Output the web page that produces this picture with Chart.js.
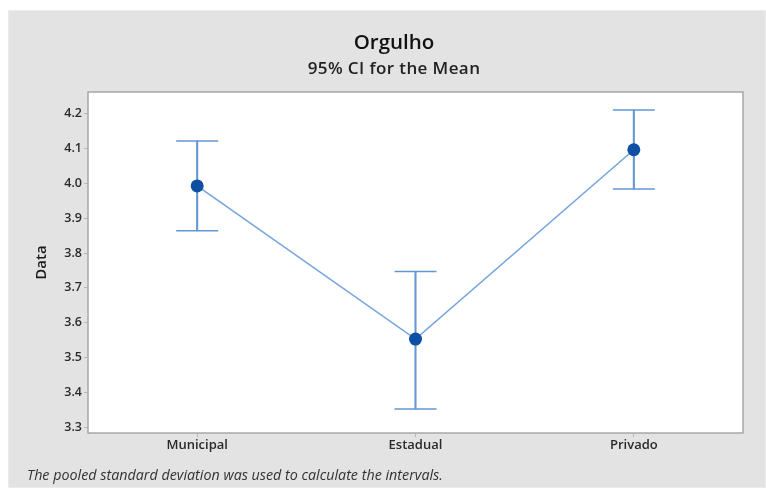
<!DOCTYPE html>
<html>
<head>
<meta charset="utf-8">
<script src="https://cdn.jsdelivr.net/npm/chart.js@4.4.1/dist/chart.umd.min.js"></script>
<style>
  html, body { margin: 0; padding: 0; background: #ffffff; }
  #wrap { width: 766px; height: 488px; }
</style>
</head>
<body>
<div id="wrap"><canvas id="c" width="766" height="488"></canvas></div>
<script>
// Groups and interval plot values
const groups = ['Municipal', 'Estadual', 'Privado'];
const means = [3.993, 3.553, 4.097];
const ciLower = [3.864, 3.352, 3.984];
const ciUpper = [4.122, 3.747, 4.211];
const yTickValues = [3.3, 3.4, 3.5, 3.6, 3.7, 3.8, 3.9, 4.0, 4.1, 4.2];

const chartTitle = 'Orgulho';
const chartSubtitle = '95% CI for the Mean';
const footnote = 'The pooled standard deviation was used to calculate the intervals.';

const FONT = "'Open Sans', 'Noto Sans', sans-serif";
const whiskerColor = '#6296d4';
const lineColor = '#76a5dd';
const dotColor = '#0d4fa3';

// Grey panel, white plot box, border, titles and footnote
const frame = {
  id: 'frame',
  beforeDraw(chart) {
    const { ctx, chartArea: a } = chart;
    ctx.save();
    ctx.fillStyle = '#ffffff';
    ctx.fillRect(0, 0, chart.width, chart.height);
    ctx.fillStyle = '#e3e3e3';
    ctx.fillRect(8, 10, chart.width - 8, chart.height - 10);
    ctx.strokeStyle = '#ececec';
    ctx.lineWidth = 1;
    ctx.strokeRect(8.5, 10.5, chart.width - 9, chart.height - 11);
    ctx.fillStyle = '#ffffff';
    ctx.fillRect(a.left, a.top, a.right - a.left, a.bottom - a.top);
    ctx.restore();
  },
  afterDraw(chart) {
    const { ctx, chartArea: a } = chart;
    ctx.save();
    ctx.strokeStyle = '#a8a8a8';
    ctx.lineWidth = 1.5;
    ctx.strokeRect(a.left, a.top, a.right - a.left, a.bottom - a.top);
    ctx.fillStyle = '#111111';
    ctx.textAlign = 'center';
    ctx.textBaseline = 'middle';
    ctx.font = `600 20.5px ${FONT}`;
    ctx.fillText(chartTitle, 394, 43);
    ctx.font = `600 17px ${FONT}`;
    ctx.letterSpacing = '0.4px';
    ctx.fillStyle = '#222222';
    ctx.fillText(chartSubtitle, 394, 69);
    ctx.letterSpacing = '0px';
    ctx.font = `italic 14.3px ${FONT}`;
    ctx.fillStyle = '#333333';
    ctx.textAlign = 'left';
    ctx.fillText(footnote, 27, 476);
    ctx.restore();
  }
};

new Chart(document.getElementById('c'), {
  type: 'bar',
  data: {
    labels: groups,
    datasets: [
      {
        type: 'line',
        label: 'Mean',
        data: means,
        borderColor: lineColor,
        borderWidth: 1.6,
        pointRadius: 6.5,
        pointHoverRadius: 6.5,
        pointBackgroundColor: dotColor,
        pointBorderColor: dotColor,
        pointBorderWidth: 0,
        tension: 0,
        order: 0
      },
      {
        type: 'line',
        label: 'Upper',
        data: ciUpper,
        showLine: false,
        pointStyle: 'line',
        pointRadius: 21,
        pointHoverRadius: 21,
        pointBorderColor: whiskerColor,
        pointBorderWidth: 1.5,
        order: 1
      },
      {
        type: 'line',
        label: 'Lower',
        data: ciLower,
        showLine: false,
        pointStyle: 'line',
        pointRadius: 21,
        pointHoverRadius: 21,
        pointBorderColor: whiskerColor,
        pointBorderWidth: 1.5,
        order: 1
      },
      {
        type: 'bar',
        label: 'CI',
        data: groups.map((g, i) => [ciLower[i], ciUpper[i]]),
        backgroundColor: whiskerColor,
        borderWidth: 0,
        barThickness: 1.4,
        order: 2
      }
    ]
  },
  options: {
    responsive: false,
    animation: false,
    events: [],
    layout: { padding: { left: 30, top: 92, right: 23, bottom: 30 } },
    plugins: {
      legend: { display: false },
      title: { display: false },
      tooltip: { enabled: false }
    },
    scales: {
      x: {
        offset: true,
        grid: {
          display: true,
          drawOnChartArea: false,
          drawTicks: true,
          tickLength: 4,
          color: '#b8b8b8',
          offset: false
        },
        border: { display: false },
        ticks: {
          padding: 0,
          color: '#2a2a2a',
          font: { family: FONT, size: 13, weight: '600' }
        },
        afterFit(scale) { scale.height = 25; }
      },
      y: {
        min: 3.283,
        max: 4.263,
        afterBuildTicks(scale) {
          scale.ticks = yTickValues.map(v => ({ value: v }));
        },
        grid: {
          display: true,
          drawOnChartArea: false,
          drawTicks: true,
          tickLength: 4,
          color: '#b8b8b8'
        },
        border: { display: false },
        ticks: {
          padding: 2,
          color: '#2a2a2a',
          font: { family: FONT, size: 12.5, weight: '600' },
          callback: v => Number(v).toFixed(1)
        },
        title: {
          display: true,
          text: 'Data',
          color: '#1a1a1a',
          font: { family: FONT, size: 15, weight: '600' },
          padding: { top: 3, bottom: 0 }
        },
        afterFit(scale) { scale.width = 58; }
      }
    }
  },
  plugins: [frame]
});
</script>
</body>
</html>
